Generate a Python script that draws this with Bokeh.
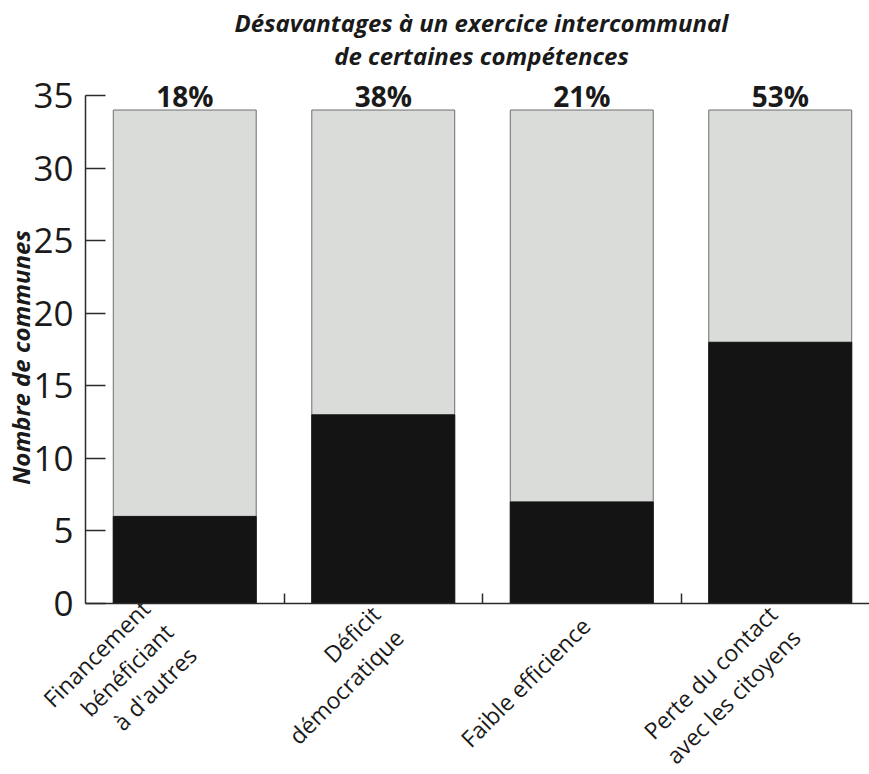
import math
import numpy as np
from bokeh.plotting import figure
from bokeh.models import (Range1d, FixedTicker, ColumnDataSource, LabelSet, Label)
from bokeh.core.properties import value
from bokeh.embed import file_html
from bokeh.resources import INLINE

# ---------------- data ----------------
categories = ["Financement\nbénéficiant\nà d'autres",
              "Déficit\ndémocratique",
              "Faible efficience",
              "Perte du contact\navec les citoyens"]
oui = [6, 13, 7, 18]          # black part
total = [34, 34, 34, 34]      # full bar height
pct_labels = ["18%", "38%", "21%", "53%"]
y_ticks = [0, 5, 10, 15, 20, 25, 30, 35]
title_lines = ["Désavantages à un exercice intercommunal", "de certaines compétences"]
y_label = "Nombre de communes"

FONT = "Open Sans"
TXT = "#1a1a1a"
AX = "#2a2a2a"

n = len(categories)
centers = list(np.arange(n) + 0.5)
bounds = list(np.arange(1, n))

src = ColumnDataSource(dict(x=centers, oui=oui, total=total, pct=pct_labels))

# whole canvas is the plotting frame; axes are pinned at 0 with fixed_location
W, H = 869, 774
x0_px, y0_px = 85.0, 603.0            # where data (0, 0) sits on the canvas
px_x, px_y = 198.5, 14.514            # pixels per data unit
x_rng = Range1d(-x0_px / px_x, (W - x0_px) / px_x)
y_rng = Range1d(-(H - y0_px) / px_y, y0_px / px_y)


def dx(px):   # canvas x pixel -> data x
    return (px - x0_px) / px_x


def dy(py):   # canvas y pixel -> data y
    return (y0_px - py) / px_y


p = figure(width=W, height=H, x_range=x_rng, y_range=y_rng,
           output_backend="svg", toolbar_location=None,
           min_border_left=0, min_border_right=0, min_border_top=0, min_border_bottom=0)
p.outline_line_color = None
p.grid.visible = False
p.background_fill_color = "white"
p.border_fill_color = "white"

# bars
p.vbar(x="x", width=0.72, bottom=0, top="total", source=src,
       fill_color="#d9dcd9", line_color="#6f6f6f", line_width=1)
p.vbar(x="x", width=0.72, bottom=0, top="oui", source=src,
       fill_color="#141414", line_color="#141414", line_width=1)

# percentage labels
p.add_layout(LabelSet(x="x", y="total", text="pct", source=src, y_offset=3,
                      text_align="center", text_baseline="alphabetic",
                      text_font=value(FONT), text_font_style="bold",
                      text_font_size="28px", text_color=TXT))

# y axis
ya = p.yaxis[0]
ya.fixed_location = 0
ya.bounds = (0, 35)
ya.ticker = FixedTicker(ticks=y_ticks)
ya.major_tick_in = 20
ya.major_tick_out = 0
ya.minor_tick_in = 0
ya.minor_tick_out = 0
ya.axis_line_color = AX
ya.axis_line_width = 1.5
ya.major_tick_line_color = AX
ya.major_tick_line_width = 1.5
ya.major_label_text_font = FONT
ya.major_label_text_font_size = "35px"
ya.major_label_text_color = TXT
ya.major_label_standoff = 12

# x axis (ticks at category boundaries, labels drawn separately)
xa = p.xaxis[0]
xa.fixed_location = 0
xa.bounds = (0, x_rng.end)
xa.ticker = FixedTicker(ticks=bounds)
xa.major_tick_in = 10
xa.major_tick_out = 0
xa.minor_tick_in = 0
xa.minor_tick_out = 0
xa.major_tick_line_color = AX
xa.major_tick_line_width = 1.5
xa.axis_line_color = AX
xa.axis_line_width = 1.5
xa.major_label_text_font_size = "0px"
xa.major_label_text_alpha = 0

# rotated category labels: one entry per line, right-aligned, 45 degrees
LH = 33.0                      # line spacing (px) perpendicular to the text
step = LH / math.sqrt(2)
lx, ly, lt = [], [], []
for c, cat in zip(centers, categories):
    lines = cat.split("\n")
    k = len(lines)
    cx_px = x0_px + c * px_x + 4 - 20 * max(k - 2, 0)
    cy_px = 621.0 + 6 * max(k - 2, 0)
    for j, line in enumerate(lines):
        off = (j - (k - 1) / 2) * step
        lx.append(dx(cx_px + off))
        ly.append(dy(cy_px + off))
        lt.append(line)
lab_src = ColumnDataSource(dict(x=lx, y=ly, t=lt))
p.text(x="x", y="y", text="t", source=lab_src,
       angle=math.pi / 4, text_align="right", text_baseline="middle",
       text_font=value(FONT), text_font_size="23px", text_color=TXT)

# titles
for txt, ypx in zip(title_lines, [22, 55]):
    p.add_layout(Label(x=dx(481), y=dy(ypx), text=txt,
                       text_align="center", text_baseline="middle",
                       text_font=FONT, text_font_style="bold italic", text_font_size="24px",
                       text_color=TXT))

# y axis title (overlapping tick labels as in the original)
p.add_layout(Label(x=dx(20), y=dy(357), text=y_label, angle=math.pi / 2,
                   text_align="center", text_baseline="middle",
                   text_font=FONT, text_font_style="bold italic", text_font_size="24px",
                   text_color=TXT))

open("out.html", "w").write(file_html(p, INLINE))
